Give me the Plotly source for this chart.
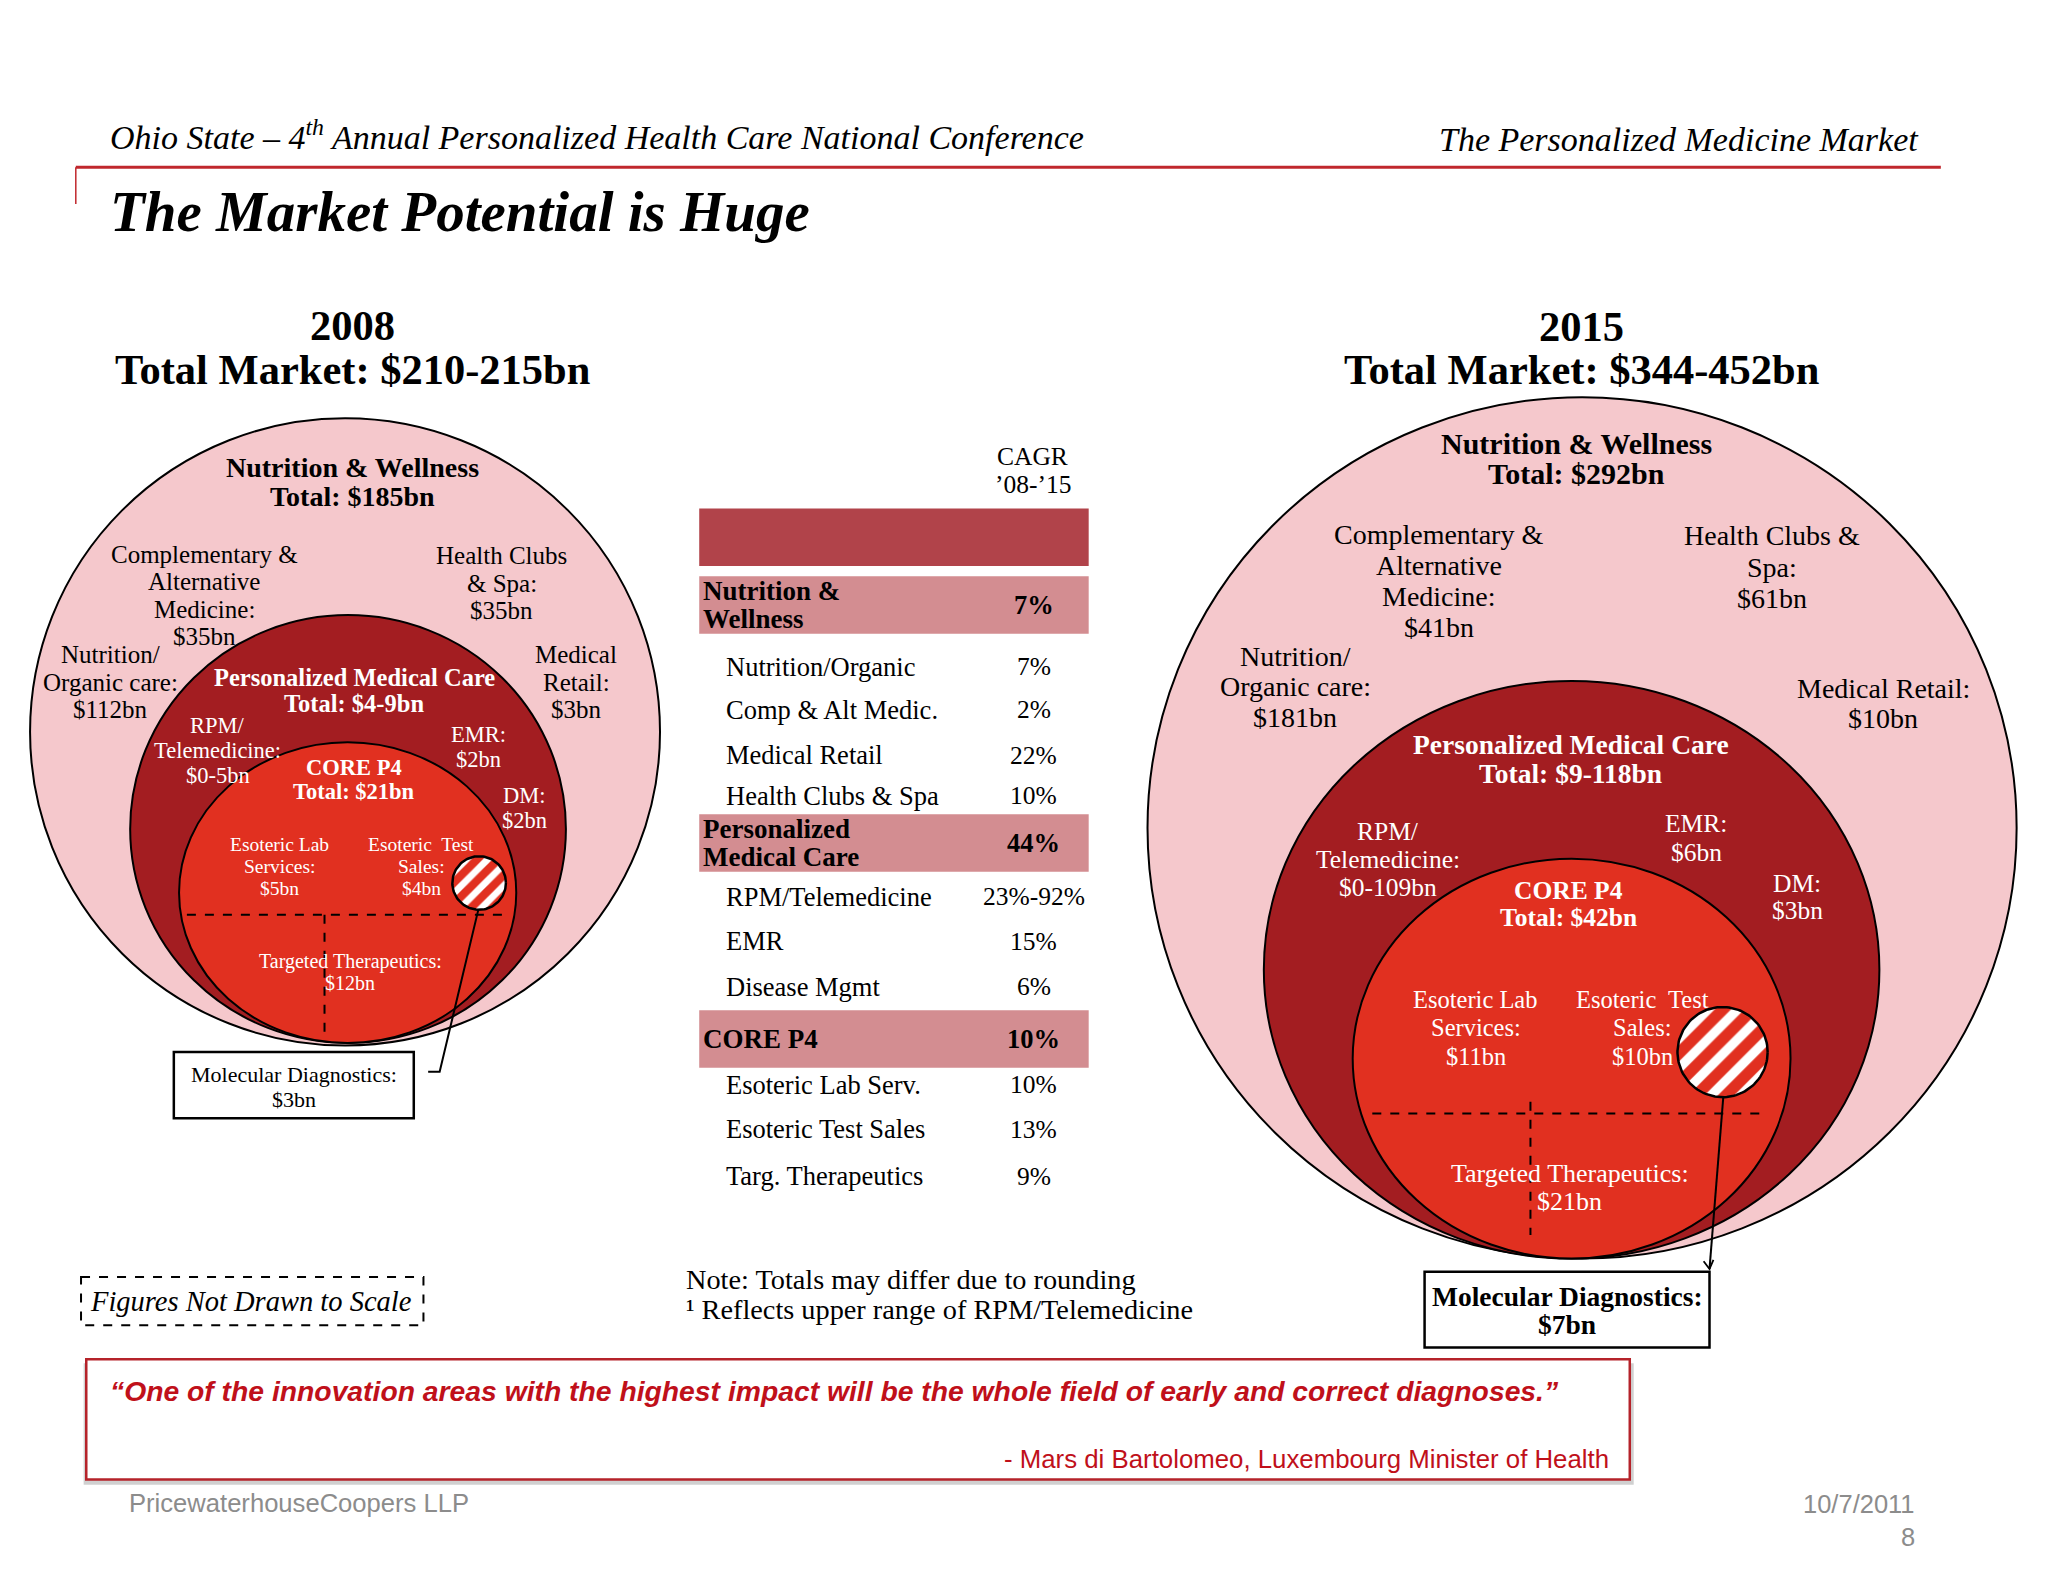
import numpy as np
import plotly.graph_objects as go

# ---------------- data ----------------
years = ["2008", "2015"]
total_market = ["$210-215bn", "$344-452bn"]
nw_total = ["$185bn", "$292bn"]
pmc_total = ["$4-9bn", "$9-118bn"]
core_total = ["$21bn", "$42bn"]
mdx_value = ["$3bn", "$7bn"]

nw_segments = ["Complementary & Alternative Medicine", "Health Clubs & Spa",
               "Nutrition/Organic care", "Medical Retail"]
nw_values_2008 = ["$35bn", "$35bn", "$112bn", "$3bn"]
nw_values_2015 = ["$41bn", "$61bn", "$181bn", "$10bn"]

pmc_segments = ["RPM/Telemedicine", "EMR", "DM"]
pmc_values_2008 = ["$0-5bn", "$2bn", "$2bn"]
pmc_values_2015 = ["$0-109bn", "$6bn", "$3bn"]

core_segments = ["Esoteric Lab Services", "Esoteric Test Sales", "Targeted Therapeutics"]
core_values_2008 = ["$5bn", "$4bn", "$12bn"]
core_values_2015 = ["$11bn", "$10bn", "$21bn"]

cagr_labels = ["Nutrition & Wellness", "Nutrition/Organic", "Comp & Alt Medic.", "Medical Retail",
               "Health Clubs & Spa", "Personalized Medical Care", "RPM/Telemedicine", "EMR",
               "Disease Mgmt", "CORE P4", "Esoteric Lab Serv.", "Esoteric Test Sales",
               "Targ. Therapeutics"]
cagr_values = ["7%", "7%", "2%", "22%", "10%", "44%", "23%-92%", "15%", "6%", "10%", "10%", "13%", "9%"]
cagr_is_group = [True, False, False, False, False, True, False, False, False, True, False, False, False]

# ---------------- styling / layout ----------------
SERIF = "Liberation Serif"
SANS = "Liberation Sans"
PINK = "#F5C8CC"
DARK = "#A31D21"
RED = "#E13020"
BAR = "#B1434A"
BAND = "#D38D91"
QUOTE_RED = "#C0101A"
W, H = 2048, 1582
XR = 1567.0
YR = XR * H / W

fig = go.Figure()
shapes = []
ann = []


def text(x, y, s, size, color="black", xanchor="center", font=SERIF):
    ann.append(dict(x=x, y=y, xref="x", yref="y", text=s, showarrow=False,
                    xanchor=xanchor, yanchor="middle",
                    font=dict(family=font, size=size, color=color)))


def lines(x, y0, dy, items, size, color="black", bold=False, xanchor="center"):
    for i, s in enumerate(items):
        t = f"<b>{s}</b>" if bold else s
        text(x, y0 + i * dy, t, size, color, xanchor)


def ellipse(box, fill):
    shapes.append(dict(type="circle", xref="x", yref="y", x0=box[0], y0=box[1], x1=box[2], y1=box[3],
                       fillcolor=fill, line=dict(color="black", width=2), layer="below"))


def seg(x0, y0, x1, y1, dash="solid", width=2, color="black", layer="below"):
    shapes.append(dict(type="line", xref="x", yref="y", x0=x0, y0=y0, x1=x1, y1=y1,
                       line=dict(color=color, width=width, dash=dash), layer=layer))


# line-break templates for each segment label
nw_wrap = [
    [["Complementary &", "Alternative", "Medicine:"], ["Health Clubs", "& Spa:"],
     ["Nutrition/", "Organic care:"], ["Medical", "Retail:"]],
    [["Complementary &", "Alternative", "Medicine:"], ["Health Clubs &", "Spa:"],
     ["Nutrition/", "Organic care:"], ["Medical Retail:"]],
]
pmc_wrap = [["RPM/", "Telemedicine:"], ["EMR:"], ["DM:"]]
core_wrap = [["Esoteric Lab", "Services:"], ["Esoteric  Test", "Sales:"], ["Targeted Therapeutics:"]]

panels = [
    dict(outer=(23, 320, 505, 800), mid=(99.6, 470.6, 433, 798), inner=(137, 568, 395, 798),
         hatch=(366.6, 675.6, 20.5, 15), dash_h=(143, 388, 700), dash_v=(248.3, 700, 790.7),
         leader=[(366, 696), (336.4, 820), (327.6, 820)], arrow=False,
         box=(133, 805, 316.6, 855.6), box_text=(224.7, 822, 19), box_size=22, box_bold=False,
         head=(270, 249, 283), head_size=42.5,
         nw_title=(270, 358, 22), nw_title_size=28,
         nw_pos=[(156.4, 424, 21), (384, 425.4, 21), (84.3, 501, 21), (441, 501, 21)], nw_size=25,
         pmc_title=(271, 518, 20), pmc_title_size=24.5,
         pmc_pos=[(166.6, 555, 19), (366, 562, 19), (401, 609, 19)], pmc_size=22.5,
         core_title=(271, 587, 18.5), core_title_size=22.5,
         core_pos=[(214, 646, 16.8), (322.3, 646, 16.8), (268, 736, 16.5)], core_size=19.5,
         targ_size=20,
         nw_vals=nw_values_2008, pmc_vals=pmc_values_2008, core_vals=core_values_2008),
    dict(outer=(878, 304, 1543, 963), mid=(967, 521, 1438, 963), inner=(1035, 657, 1370, 963),
         hatch=(1318, 805, 34.5, 21), dash_h=(1050, 1348, 852), dash_v=(1171, 843, 945),
         leader=[(1318.5, 840), (1308, 971)], arrow=True,
         box=(1090, 973, 1308, 1031), box_text=(1199, 992, 21.5), box_size=27.5, box_bold=True,
         head=(1210, 250, 283), head_size=42.5,
         nw_title=(1206, 339, 23), nw_title_size=30,
         nw_pos=[(1101, 409, 23.7), (1356, 410, 24), (991, 502, 23.5), (1441, 527, 23)], nw_size=28,
         pmc_title=(1202, 570, 22), pmc_title_size=27.5,
         pmc_pos=[(1062, 636, 21.5), (1298, 630, 22), (1375, 676, 21)], pmc_size=25.5,
         core_title=(1200, 681, 21), core_title_size=25.5,
         core_pos=[(1129, 765, 21.5), (1257, 765, 21.5), (1201, 898, 21)], core_size=24.5,
         targ_size=26,
         nw_vals=nw_values_2015, pmc_vals=pmc_values_2015, core_vals=core_values_2015),
]

for i, p in enumerate(panels):
    # nested market circles
    ellipse(p["outer"], PINK)
    ellipse(p["mid"], DARK)
    ellipse(p["inner"], RED)
    x0, x1, y = p["dash_h"]
    seg(x0, y, x1, y, dash="dash")
    x, y0, y1 = p["dash_v"]
    seg(x, y0, x, y1, dash="dash")
    # molecular diagnostics hatched circle
    cx, cy, r, psize = p["hatch"]
    th = np.linspace(0, 2 * np.pi, 120)
    fig.add_trace(go.Scatter(x=cx + r * np.cos(th), y=cy + r * np.sin(th), mode="lines",
                             fill="toself", fillcolor="white",
                             fillpattern=dict(shape="/", fgcolor=RED, bgcolor="white",
                                              size=psize, solidity=0.55, fgopacity=1),
                             line=dict(color="black", width=2.5), hoverinfo="skip", showlegend=False))
    # leader line
    pts = p["leader"]
    fig.add_trace(go.Scatter(x=[q[0] for q in pts], y=[q[1] for q in pts], mode="lines",
                             line=dict(color="black", width=2), hoverinfo="skip", showlegend=False))
    if p["arrow"]:
        ex, ey = pts[-1]
        shapes.append(dict(type="path", xref="x", yref="y",
                           path=f"M {ex - 4.5},{ey - 6} L {ex},{ey} L {ex + 3},{ey - 7}",
                           line=dict(color="black", width=1.8), layer="above"))
    bx = p["box"]
    shapes.append(dict(type="rect", xref="x", yref="y", x0=bx[0], y0=bx[1], x1=bx[2], y1=bx[3],
                       fillcolor="white", line=dict(color="black", width=2.5), layer="above"))
    tx, ty, tdy = p["box_text"]
    lines(tx, ty, tdy, ["Molecular Diagnostics:", mdx_value[i]], p["box_size"], bold=p["box_bold"])

    # headings
    hx, hy0, hy1 = p["head"]
    text(hx, hy0, f"<b>{years[i]}</b>", p["head_size"])
    text(hx, hy1, f"<b>Total Market: {total_market[i]}</b>", p["head_size"])

    # nutrition & wellness ring
    x, y, dy = p["nw_title"]
    lines(x, y, dy, ["Nutrition & Wellness", f"Total: {nw_total[i]}"], p["nw_title_size"], bold=True)
    for (sx, sy, sdy), wrap, val in zip(p["nw_pos"], nw_wrap[i], p["nw_vals"]):
        lines(sx, sy, sdy, wrap + [val], p["nw_size"])

    # personalized medical care ring
    x, y, dy = p["pmc_title"]
    lines(x, y, dy, ["Personalized Medical Care", f"Total: {pmc_total[i]}"], p["pmc_title_size"],
          color="white", bold=True)
    for (sx, sy, sdy), wrap, val in zip(p["pmc_pos"], pmc_wrap, p["pmc_vals"]):
        lines(sx, sy, sdy, wrap + [val], p["pmc_size"], color="white")

    # core P4
    x, y, dy = p["core_title"]
    lines(x, y, dy, ["CORE P4", f"Total: {core_total[i]}"], p["core_title_size"], color="white", bold=True)
    for k, ((sx, sy, sdy), wrap, val) in enumerate(zip(p["core_pos"], core_wrap, p["core_vals"])):
        sz = p["targ_size"] if k == 2 else p["core_size"]
        lines(sx, sy, sdy, wrap + [val], sz, color="white")

# ---------------- CAGR table ----------------
tbl_x0, tbl_x1 = 535, 833
lines(790, 349, 22, ["CAGR", "’08-’15"], 25.5)
shapes.append(dict(type="rect", xref="x", yref="y", x0=tbl_x0, y0=389, x1=tbl_x1, y1=433,
                   fillcolor=BAR, line=dict(width=0), layer="below"))
row_y = [463, 510, 543, 578, 609, 645, 686, 720, 755, 795, 830, 864, 900]
group_wrap = {"Nutrition & Wellness": ["Nutrition &", "Wellness"],
              "Personalized Medical Care": ["Personalized", "Medical Care"],
              "CORE P4": ["CORE P4"]}
for lab, val, grp, y in zip(cagr_labels, cagr_values, cagr_is_group, row_y):
    if grp:
        shapes.append(dict(type="rect", xref="x", yref="y", x0=tbl_x0, y0=y - 22, x1=tbl_x1, y1=y + 22,
                           fillcolor=BAND, line=dict(width=0), layer="below"))
        wl = group_wrap[lab]
        lines(536, y - 10.5 * (len(wl) - 1), 21, wl, 27, bold=True, xanchor="left")
        text(791, y, f"<b>{val}</b>", 26.5)
    else:
        text(554, y, lab, 26.5, xanchor="left")
        text(791, y, val, 25.5)

# ---------------- header ----------------
text(83, 103, "<i>Ohio State – 4<sup>th</sup> Annual Personalized Health Care National Conference</i>", 34,
     xanchor="left")
text(1470, 107, "<i>The Personalized Medicine Market</i>", 34, xanchor="right")
seg(58, 128, 1485, 128, width=3, color="#C0272D")
seg(58, 128, 58, 156, width=1.5, color="#C0272D")
text(83, 162, "<b><i>The Market Potential is Huge</i></b>", 57, xanchor="left")

# ---------------- footer notes ----------------
shapes.append(dict(type="rect", xref="x", yref="y", x0=62, y0=977, x1=324, y1=1014,
                   line=dict(color="black", width=2, dash="dash"), layer="above"))
text(192, 996, "<i>Figures Not Drawn to Scale</i>", 28.5)
text(523, 979, "Note: Totals may differ due to rounding", 28.3, xanchor="left")
text(523, 1002, "¹ Reflects upper range of RPM/Telemedicine", 28.3, xanchor="left")

# quote box with shadow
shapes.append(dict(type="rect", xref="x", yref="y", x0=64, y0=1043, x1=1250, y1=1136,
                   fillcolor="rgba(120,120,120,0.35)", line=dict(width=0), layer="above"))
shapes.append(dict(type="rect", xref="x", yref="y", x0=66, y0=1040, x1=1247, y1=1132,
                   fillcolor="white", line=dict(color="#B5232A", width=2.5), layer="above"))
text(83, 1064, "<b><i>“One of the innovation areas with the highest impact will be the whole field of "
               "early and correct diagnoses.”</i></b>", 28.3, color=QUOTE_RED, xanchor="left", font=SANS)
text(1233, 1116, "- Mars di Bartolomeo, Luxembourg Minister of Health", 25.8, color=QUOTE_RED,
     xanchor="right", font=SANS)
text(97, 1150, "PricewaterhouseCoopers LLP", 25.6, color="#8C8C8C", xanchor="left", font=SANS)
text(1467, 1151, "10/7/2011", 25.5, color="#8C8C8C", xanchor="right", font=SANS)
text(1467, 1176, "8", 25.5, color="#8C8C8C", xanchor="right", font=SANS)

fig.update_layout(
    width=W, height=H, margin=dict(l=0, r=0, t=0, b=0),
    paper_bgcolor="white", plot_bgcolor="white",
    xaxis=dict(range=[0, XR], visible=False, fixedrange=True),
    yaxis=dict(range=[YR, 0], visible=False, fixedrange=True),
    shapes=shapes, annotations=ann, showlegend=False,
)
fig.write_html("out.html", config={"displayModeBar": False},
               post_script="document.body.style.margin='0';document.body.style.overflow='hidden';")
